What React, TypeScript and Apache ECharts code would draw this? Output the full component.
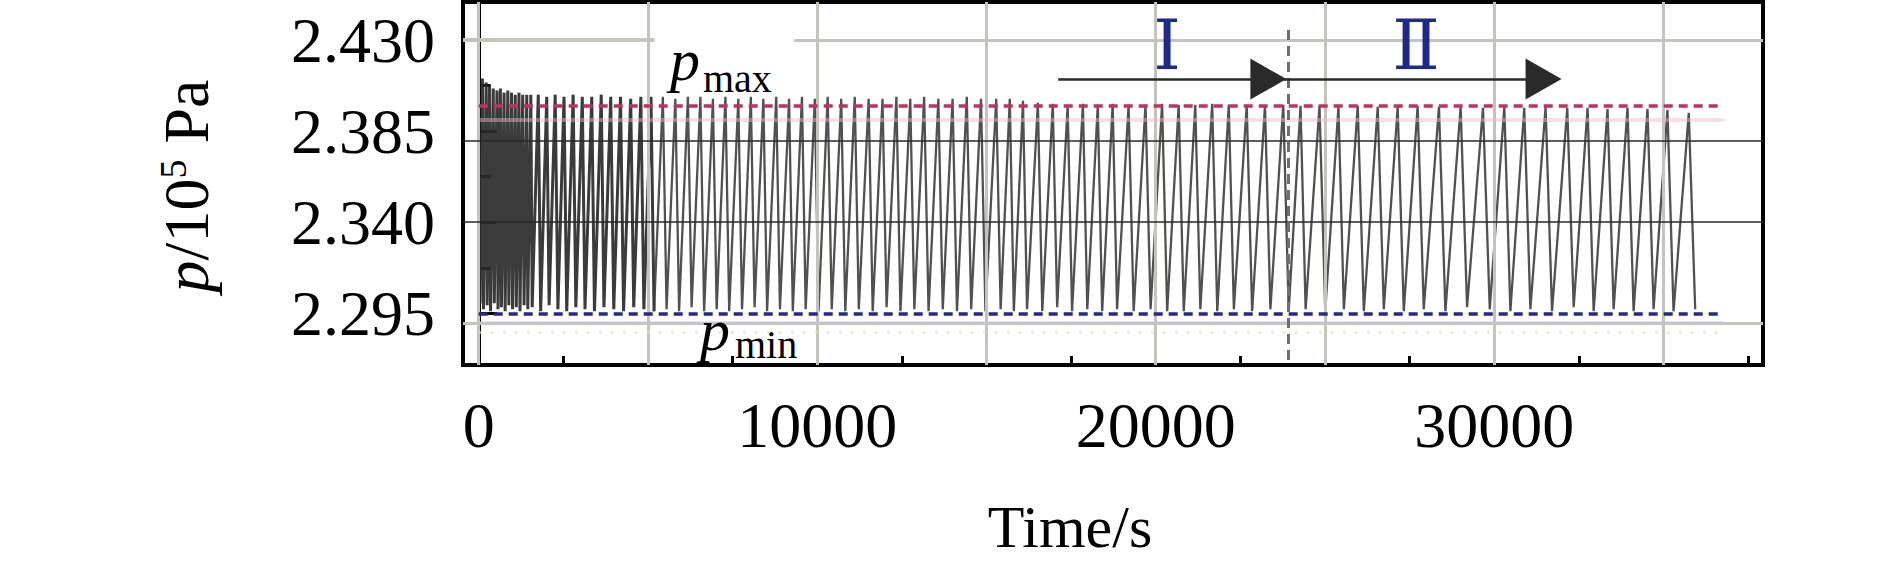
import React, { useEffect, useRef } from "react";
import * as echarts from "echarts";

// ---- axes ----
const xRange = [-464, 37943];
const yRange = [2.26947, 2.44877];
const xLabelValues = [0, 10000, 20000, 30000];
const xMajorTicks = [0, 5000, 10000, 15000, 20000, 25000, 30000, 35000];
const xMinorTicks = [2500, 7500, 12500, 17500, 22500, 27500, 32500, 37500];
const yLabelValues = [2.295, 2.34, 2.385, 2.43];
const yMinorTicks = [2.3175, 2.3625, 2.4075];
const xGridValues = [0, 5000, 10000, 15000, 20000, 25000, 30000, 35000];

// ---- pressure trace (s, 10^5 Pa) ----
const troughTimes = [
  40, 140, 250, 350, 460, 570, 670, 780, 890, 1000, 1110, 1220, 1340, 1450,
  1580, 1830, 2080, 2340, 2600, 2870, 3140, 3420, 3700, 3990, 4280, 4580, 4880,
  5180, 5550, 5920, 6290, 6660, 7030, 7400, 7780, 8150, 8520, 8900, 9280, 9660, 10040,
  10430, 10830, 11230, 11640, 12050, 12460, 12870, 13290, 13710, 14130, 14550,
  14970, 15420, 15810, 16200, 16650, 17090, 17530, 17980, 18420, 18860,
  19350, 19850, 20340, 20830, 21320, 21820, 22310, 22850, 23390, 23930,
  24430, 25010, 25560, 26150, 26740, 27330, 27920, 28560, 29200, 29870,
  30480, 31070, 31710, 32350, 32940, 33530, 34120, 34710, 35300, 35940,
];
const troughValues = [
  2.3, 2.297, 2.299, 2.296, 2.3, 2.297, 2.298, 2.296, 2.299, 2.297, 2.298, 2.296, 2.299, 2.297,
  2.298, 2.296, 2.299, 2.297, 2.296, 2.298, 2.297, 2.296, 2.298, 2.297, 2.296, 2.298, 2.297,
  2.296, 2.297, 2.296, 2.298, 2.296, 2.297, 2.296, 2.297, 2.298, 2.296, 2.297, 2.296, 2.297, 2.296,
  2.297, 2.296, 2.297, 2.296, 2.298, 2.296, 2.297, 2.296, 2.297, 2.296, 2.297,
  2.296, 2.297, 2.296, 2.297, 2.296, 2.298, 2.296, 2.297, 2.296, 2.297,
  2.296, 2.297, 2.296, 2.296, 2.297, 2.296, 2.297, 2.296, 2.297, 2.296,
  2.297, 2.296, 2.297, 2.296, 2.297, 2.296, 2.297, 2.296, 2.298, 2.297,
  2.296, 2.297, 2.296, 2.298, 2.296, 2.297, 2.296, 2.297, 2.296, 2.297,
];
const peakTimes = [
  110, 220, 320, 430, 540, 640, 750, 860, 970, 1080, 1190, 1300, 1420, 1540,
  1760, 2010, 2260, 2520, 2790, 3060, 3340, 3620, 3900, 4190, 4490, 4790, 5090,
  5440, 5810, 6180, 6550, 6920, 7290, 7670, 8040, 8410, 8790, 9170, 9550, 9930, 10310,
  10710, 11110, 11520, 11930, 12340, 12750, 13160, 13580, 14000, 14420, 14840,
  15290, 15690, 16080, 16520, 16960, 17400, 17850, 18290, 18730, 19200,
  19700, 20190, 20680, 21170, 21670, 22160, 22690, 23230, 23770, 24280,
  24840, 25400, 25970, 26560, 27150, 27740, 28370, 29010, 29670, 30300,
  30890, 31520, 32160, 32760, 33350, 33940, 34530, 35120, 35750,
];
const peakValues = [
  2.411, 2.409, 2.407, 2.406, 2.405, 2.406, 2.404, 2.405, 2.404, 2.403, 2.404, 2.403, 2.403, 2.403,
  2.403, 2.402, 2.403, 2.402, 2.403, 2.402, 2.402, 2.403, 2.402, 2.402, 2.401, 2.402, 2.402,
  2.402, 2.401, 2.402, 2.402, 2.401, 2.402, 2.401, 2.402, 2.401, 2.402, 2.401, 2.402, 2.401, 2.402,
  2.401, 2.402, 2.401, 2.401, 2.402, 2.401, 2.402, 2.401, 2.401, 2.402, 2.401,
  2.401, 2.401, 2.4, 2.399, 2.3985, 2.398, 2.3985, 2.398, 2.3985, 2.398,
  2.398, 2.3985, 2.398, 2.398, 2.3985, 2.398, 2.398, 2.3975, 2.398, 2.3975,
  2.3975, 2.397, 2.3975, 2.397, 2.397, 2.3975, 2.397, 2.397, 2.3965, 2.397,
  2.3965, 2.397, 2.3965, 2.3965, 2.396, 2.3965, 2.396, 2.3955, 2.394,
];
// the early transient (up to this time) is drawn heavier, as in the figure
const transientEnd = 5180;

// ---- reference lines / annotations (data coordinates) ----
const pMaxLevel = 2.3974;
const pMinLevel = 2.295;
const pMaxHalo = 2.3905;
const pMinHalo = 2.2905;
const pMinDots = 2.2855;
const refLineSpan = [0, 36780];
const topGridGap = [5195, 9323];
const boundaryTime = 23916;
const boundaryTop = 2.4349;
const arrowLevel = 2.4107;
const arrowSegments = [
  [17120, 23330],
  [23330, 31460],
];

const SERIF = '"Liberation Serif", "Times New Roman", "DejaVu Serif", serif';

function buildTrace(): number[][] {
  const pts: number[][] = [];
  for (let i = 0; i < troughTimes.length; i++) {
    pts.push([troughTimes[i], troughValues[i]]);
    if (i < peakTimes.length) pts.push([peakTimes[i], peakValues[i]]);
  }
  return pts;
}

export default function App() {
  const ref = useRef<HTMLDivElement>(null);

  useEffect(() => {
    if (!ref.current) return;
    const chart = echarts.init(ref.current, undefined, { renderer: "svg" });
    const lineOnly = (extra: any) => ({
      silent: true,
      symbol: "none",
      label: { show: false },
      emphasis: { disabled: true },
      animation: false,
      ...extra,
    });
    const trace = buildTrace();
    const early = trace.filter((p) => p[0] <= transientEnd);
    const late = trace.filter((p) => p[0] >= transientEnd);

    const option: any = {
      animation: false,
      backgroundColor: "#ffffff",
      grid: {
        left: 463,
        right: 1890 - 1763,
        top: 2,
        bottom: 568 - 365,
        show: true,
        borderColor: "#000",
        borderWidth: 4,
        backgroundColor: "transparent",
      },
      xAxis: [
        {
          type: "value",
          min: xRange[0],
          max: xRange[1],
          position: "bottom",
          axisLine: { show: true, lineStyle: { color: "#000", width: 4 } },
          axisTick: {
            show: true,
            inside: true,
            length: 18,
            customValues: xMajorTicks,
            lineStyle: { color: "#000", width: 3 },
          },
          axisLabel: {
            show: true,
            customValues: xLabelValues,
            margin: 28,
            color: "#000",
            fontSize: 64,
            fontFamily: SERIF,
            formatter: (v: number) => String(Math.round(v)),
          },
          splitLine: { show: false },
        },
        {
          type: "value",
          min: xRange[0],
          max: xRange[1],
          position: "bottom",
          axisLine: { show: false },
          axisTick: {
            show: true,
            inside: true,
            length: 9,
            customValues: xMinorTicks,
            lineStyle: { color: "#000", width: 3 },
          },
          axisLabel: { show: false },
          splitLine: { show: false },
        },
      ],
      yAxis: [
        {
          type: "value",
          min: yRange[0],
          max: yRange[1],
          position: "left",
          axisLine: { show: true, lineStyle: { color: "#000", width: 4 } },
          axisTick: {
            show: true,
            inside: true,
            length: 18,
            customValues: yLabelValues,
            lineStyle: { color: "#000", width: 3 },
          },
          axisLabel: {
            show: true,
            customValues: yLabelValues,
            margin: 28,
            color: "#000",
            fontSize: 64,
            fontFamily: SERIF,
            formatter: (v: number) => v.toFixed(3),
          },
          splitLine: { show: false },
        },
        {
          type: "value",
          min: yRange[0],
          max: yRange[1],
          position: "left",
          axisLine: { show: false },
          axisTick: {
            show: true,
            inside: true,
            length: 12,
            customValues: yMinorTicks,
            lineStyle: { color: "#000", width: 3 },
          },
          axisLabel: { show: false },
          splitLine: { show: false },
        },
      ],
      series: [
        {
          name: "grid",
          type: "line",
          data: [],
          z: 1,
          markLine: lineOnly({
            lineStyle: { color: "#c4c4bc", width: 3, type: "solid" },
            data: [
              ...xGridValues.map((v) => ({ xAxis: v })),
              { yAxis: 2.295 },
              [{ coord: [xRange[0], 2.43] }, { coord: [topGridGap[0], 2.43], lineStyle: { width: 4 } }],
              [{ coord: [topGridGap[1], 2.43] }, { coord: [xRange[1], 2.43] }],
            ],
          }),
        },
        {
          name: "halo",
          type: "line",
          data: [],
          z: 1,
          markLine: lineOnly({
            data: [
              [
                { coord: [refLineSpan[0], pMaxHalo], lineStyle: { color: "rgba(238,185,205,0.45)", width: 4, type: "solid" } },
                { coord: [refLineSpan[1], pMaxHalo] },
              ],
              [
                { coord: [refLineSpan[0], pMinHalo], lineStyle: { color: "rgba(195,195,238,0.45)", width: 3, type: "solid" } },
                { coord: [refLineSpan[1], pMinHalo] },
              ],
              [
                { coord: [refLineSpan[0], pMinDots], lineStyle: { color: "rgba(228,230,160,0.65)", width: 3, type: [3, 9] } },
                { coord: [refLineSpan[1], pMinDots] },
              ],
            ],
          }),
        },
        {
          name: "p (transient)",
          type: "line",
          data: early,
          z: 2,
          showSymbol: false,
          symbol: "none",
          silent: true,
          lineStyle: { color: "#2a2a2a", width: 3, opacity: 0.92 },
        },
        {
          name: "p",
          type: "line",
          data: late,
          z: 2,
          showSymbol: false,
          symbol: "none",
          silent: true,
          lineStyle: { color: "#3e3e3e", width: 2.3, opacity: 0.9 },
        },
        {
          name: "dark grid",
          type: "line",
          data: [],
          z: 3,
          markLine: lineOnly({
            lineStyle: { color: "rgba(40,40,40,0.75)", width: 2, type: "solid" },
            data: [{ yAxis: 2.385 }, { yAxis: 2.34 }],
          }),
        },
        {
          name: "limits",
          type: "line",
          data: [],
          z: 4,
          markLine: lineOnly({
            data: [
              [
                { coord: [refLineSpan[0], pMaxLevel], lineStyle: { color: "#c4305c", width: 3.5, type: [9, 6] } },
                { coord: [refLineSpan[1], pMaxLevel] },
              ],
              [
                { coord: [refLineSpan[0], pMinLevel], lineStyle: { color: "#26268f", width: 3.5, type: [9, 6] } },
                { coord: [refLineSpan[1], pMinLevel] },
              ],
              [
                { coord: [boundaryTime, boundaryTop], lineStyle: { color: "#6e6e6e", width: 3, type: [10, 6] } },
                { coord: [boundaryTime, yRange[0]] },
              ],
            ],
          }),
        },
        {
          name: "stages",
          type: "line",
          data: [],
          z: 5,
          markLine: {
            silent: true,
            symbol: ["none", "triangle"],
            symbolSize: [41, 36],
            label: { show: false },
            emphasis: { disabled: true },
            lineStyle: { color: "#2a2a2a", width: 2.5, type: "solid" },
            itemStyle: { color: "#000" },
            data: arrowSegments.map((s) => [
              { coord: [s[0], arrowLevel] },
              { coord: [s[1], arrowLevel] },
            ]),
          },
        },
      ],
      graphic: [
        // p_max
        { type: "text", z: 100, style: { text: "p", x: 670, y: 60, fontSize: 60, fontStyle: "italic", fontFamily: SERIF, fill: "#000", align: "left", verticalAlign: "middle" } },
        { type: "text", z: 100, style: { text: "max", x: 703, y: 78.5, fontSize: 40, fontFamily: SERIF, fill: "#000", align: "left", verticalAlign: "middle" } },
        // p_min
        { type: "text", z: 100, style: { text: "p", x: 700, y: 330, fontSize: 60, fontStyle: "italic", fontFamily: SERIF, fill: "#000", align: "left", verticalAlign: "middle" } },
        { type: "text", z: 100, style: { text: "min", x: 735, y: 344.5, fontSize: 40, fontFamily: SERIF, fill: "#000", align: "left", verticalAlign: "middle" } },
        // stage labels
        { type: "text", z: 100, style: { text: "Ⅰ", x: 1167, y: 45, fontSize: 70, fontFamily: SERIF, fill: "#1c2a8c", align: "center", verticalAlign: "middle" } },
        { type: "text", z: 100, style: { text: "Ⅱ", x: 1416, y: 45, fontSize: 70, fontFamily: SERIF, fill: "#1c2a8c", align: "center", verticalAlign: "middle" } },
        // axis titles
        { type: "text", z: 100, style: { text: "Time/s", x: 1070, y: 527, fontSize: 60, fontFamily: SERIF, fill: "#000", align: "center", verticalAlign: "middle" } },
        {
          type: "text",
          z: 100,
          x: 186,
          y: 186,
          rotation: Math.PI / 2,
          style: {
            text: "{i|p}/10{s|5} Pa",
            fontSize: 64,
            fontFamily: SERIF,
            fill: "#000",
            align: "center",
            verticalAlign: "middle",
            rich: {
              i: { fontSize: 64, fontStyle: "italic", fontFamily: SERIF },
              s: { fontSize: 38, fontFamily: SERIF, verticalAlign: "top" },
            },
          },
        },
      ],
    };

    chart.setOption(option);
    return () => chart.dispose();
  }, []);

  return (
    <div
      ref={ref}
      style={{ position: "absolute", left: 0, top: 0, width: 1890, height: 568, background: "#fff" }}
    />
  );
}
